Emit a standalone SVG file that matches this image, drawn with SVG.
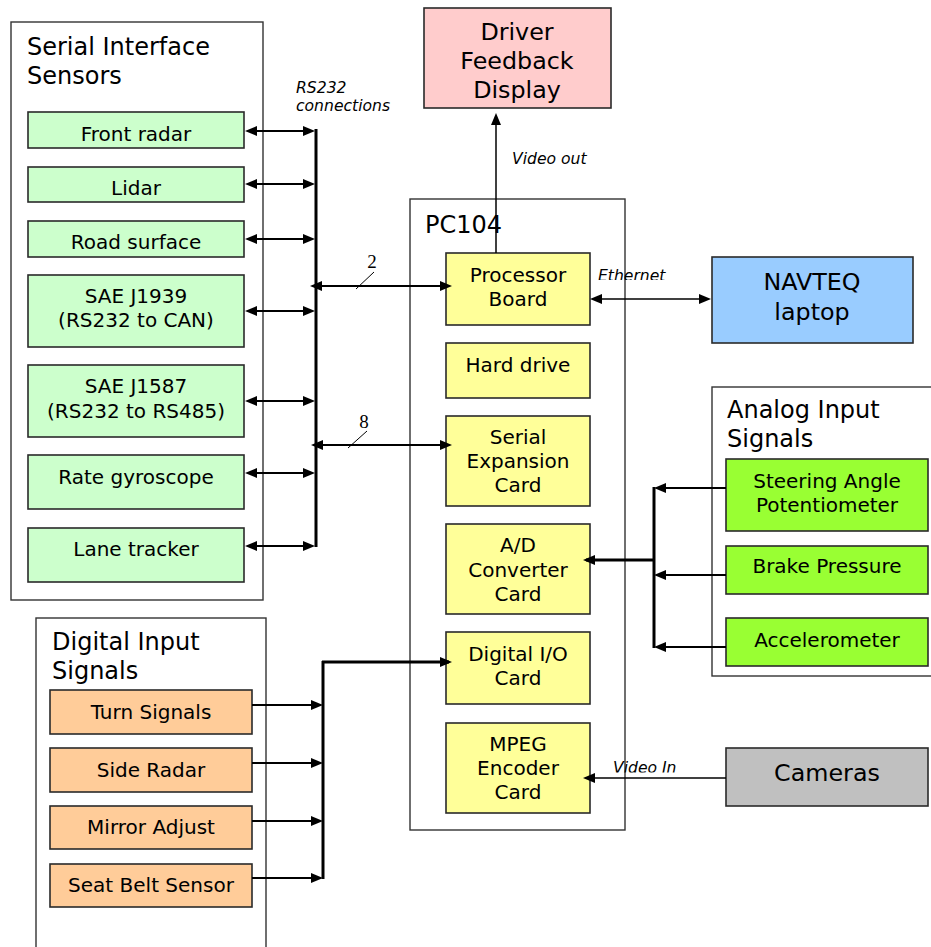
<svg xmlns="http://www.w3.org/2000/svg" width="931" height="947" viewBox="0 0 931 947">
<style>
  text { font-family: "DejaVu Sans", Verdana, sans-serif; fill: #000; }
  .lbl { font-size: 20px; text-anchor: middle; }
  .ttl { font-size: 24px; }
  .big { font-size: 23.8px; text-anchor: middle; }
  .it { font-size: 15.6px; font-style: italic; }
  .num { font-family: "Liberation Serif", "Times New Roman", serif; font-size: 19px; text-anchor: middle; }
  .cont { fill: #fff; stroke: #333; stroke-width: 1.4; }
  .box { stroke: #2a2a2a; stroke-width: 1.6; }
  .g { fill: #CCFFCC; }
  .y { fill: #FFFF99; }
  .o { fill: #FFCC99; }
  .lg { fill: #99FF33; }
  .bl { fill: #99CCFF; }
  .pk { fill: #FFCCCC; }
  .gr { fill: #C0C0C0; }
  .w1 { stroke: #000; stroke-width: 1.5; fill: none; }
  .w2 { stroke: #000; stroke-width: 2; fill: none; }
  .w3 { stroke: #000; stroke-width: 3; fill: none; }
  .sl { stroke: #000; stroke-width: 1; }
</style>
<defs>
  <marker id="ah" viewBox="0 0 12 10" refX="9" refY="5" markerWidth="12" markerHeight="10" markerUnits="userSpaceOnUse" orient="auto-start-reverse">
    <path d="M0,0 L12,5 L0,10 z" fill="#000"/>
  </marker>
  <clipPath id="clipEth"><rect x="590" y="255" width="120" height="25"/></clipPath>
  <clipPath id="clipVid"><rect x="600" y="750" width="120" height="22.5"/></clipPath>
</defs>

<!-- Containers -->
<g id="serial-interface-sensors">
  <rect class="cont" x="11" y="22" width="252" height="578"/>
  <text class="ttl" x="27" y="55">Serial Interface</text>
  <text class="ttl" x="27" y="84">Sensors</text>
</g>
<g id="pc104">
  <rect class="cont" x="410" y="199" width="215" height="631"/>
  <text class="ttl" x="425" y="233">PC104</text>
</g>
<g id="analog-input-signals">
  <rect class="cont" x="712" y="387" width="230" height="289"/>
  <text class="ttl" x="727" y="418">Analog Input</text>
  <text class="ttl" x="727" y="447">Signals</text>
</g>
<g id="digital-input-signals">
  <rect class="cont" x="36" y="618" width="230" height="340"/>
  <text class="ttl" x="52" y="650">Digital Input</text>
  <text class="ttl" x="52" y="679">Signals</text>
</g>

<!-- Serial sensors -->
<g id="front-radar"><rect class="box g" x="28" y="112" width="216" height="36"/><text class="lbl" x="136" y="141">Front radar</text></g>
<g id="lidar"><rect class="box g" x="28" y="167" width="216" height="35"/><text class="lbl" x="136" y="195">Lidar</text></g>
<g id="road-surface"><rect class="box g" x="28" y="221" width="216" height="36"/><text class="lbl" x="136" y="249">Road surface</text></g>
<g id="sae-j1939"><rect class="box g" x="28" y="275" width="216" height="72"/><text class="lbl" x="136" y="303">SAE J1939</text><text class="lbl" x="136" y="327">(RS232 to CAN)</text></g>
<g id="sae-j1587"><rect class="box g" x="28" y="365" width="216" height="72"/><text class="lbl" x="136" y="393">SAE J1587</text><text class="lbl" x="136" y="418">(RS232 to RS485)</text></g>
<g id="rate-gyroscope"><rect class="box g" x="28" y="455" width="216" height="54"/><text class="lbl" x="136" y="484">Rate gyroscope</text></g>
<g id="lane-tracker"><rect class="box g" x="28" y="528" width="216" height="54"/><text class="lbl" x="136" y="556">Lane tracker</text></g>

<!-- Top / right nodes -->
<g id="driver-feedback-display"><rect class="box pk" x="424" y="8" width="187" height="100"/><text class="big" x="517" y="40">Driver</text><text class="big" x="517" y="69">Feedback</text><text class="big" x="517" y="98">Display</text></g>
<g id="navteq-laptop"><rect class="box bl" x="712" y="257" width="201" height="86"/><text class="big" x="812" y="290">NAVTEQ</text><text class="big" x="812" y="320">laptop</text></g>
<g id="cameras"><rect class="box gr" x="726" y="748" width="202" height="58"/><text class="big" x="827" y="781">Cameras</text></g>

<!-- PC104 cards -->
<g id="processor-board"><rect class="box y" x="446" y="253" width="144" height="72"/><text class="lbl" x="518" y="282">Processor</text><text class="lbl" x="518" y="306">Board</text></g>
<g id="hard-drive"><rect class="box y" x="446" y="343" width="144" height="55"/><text class="lbl" x="518" y="372">Hard drive</text></g>
<g id="serial-expansion-card"><rect class="box y" x="446" y="416" width="144" height="90"/><text class="lbl" x="518" y="444">Serial</text><text class="lbl" x="518" y="468">Expansion</text><text class="lbl" x="518" y="492">Card</text></g>
<g id="ad-converter-card"><rect class="box y" x="446" y="524" width="144" height="90"/><text class="lbl" x="518" y="552">A/D</text><text class="lbl" x="518" y="577">Converter</text><text class="lbl" x="518" y="601">Card</text></g>
<g id="digital-io-card"><rect class="box y" x="446" y="632" width="144" height="72"/><text class="lbl" x="518" y="661">Digital I/O</text><text class="lbl" x="518" y="685">Card</text></g>
<g id="mpeg-encoder-card"><rect class="box y" x="446" y="723" width="144" height="90"/><text class="lbl" x="518" y="751">MPEG</text><text class="lbl" x="518" y="775">Encoder</text><text class="lbl" x="518" y="799">Card</text></g>

<!-- Analog sensors -->
<g id="steering-angle"><rect class="box lg" x="726" y="459" width="202" height="72"/><text class="lbl" x="827" y="488">Steering Angle</text><text class="lbl" x="827" y="512">Potentiometer</text></g>
<g id="brake-pressure"><rect class="box lg" x="726" y="546" width="202" height="48"/><text class="lbl" x="827" y="573">Brake Pressure</text></g>
<g id="accelerometer"><rect class="box lg" x="726" y="618" width="202" height="48"/><text class="lbl" x="827" y="647">Accelerometer</text></g>

<!-- Digital sensors -->
<g id="turn-signals"><rect class="box o" x="50" y="690" width="202" height="44"/><text class="lbl" x="151" y="719">Turn Signals</text></g>
<g id="side-radar"><rect class="box o" x="50" y="748" width="202" height="44"/><text class="lbl" x="151" y="777">Side Radar</text></g>
<g id="mirror-adjust"><rect class="box o" x="50" y="806" width="202" height="43"/><text class="lbl" x="151" y="834">Mirror Adjust</text></g>
<g id="seat-belt-sensor"><rect class="box o" x="50" y="864" width="202" height="43"/><text class="lbl" x="151" y="892">Seat Belt Sensor</text></g>

<!-- Connectors -->
<g id="connectors">
  <!-- RS232 bus -->
  <line class="w3" x1="316" y1="129" x2="316" y2="547"/>
  <line class="w2" x1="248" y1="131" x2="312" y2="131" marker-start="url(#ah)" marker-end="url(#ah)"/>
  <line class="w2" x1="248" y1="184" x2="312" y2="184" marker-start="url(#ah)" marker-end="url(#ah)"/>
  <line class="w2" x1="248" y1="239" x2="312" y2="239" marker-start="url(#ah)" marker-end="url(#ah)"/>
  <line class="w2" x1="248" y1="311" x2="312" y2="311" marker-start="url(#ah)" marker-end="url(#ah)"/>
  <line class="w2" x1="248" y1="401" x2="312" y2="401" marker-start="url(#ah)" marker-end="url(#ah)"/>
  <line class="w2" x1="248" y1="473" x2="312" y2="473" marker-start="url(#ah)" marker-end="url(#ah)"/>
  <line class="w2" x1="248" y1="546" x2="312" y2="546" marker-start="url(#ah)" marker-end="url(#ah)"/>
  <!-- bus to processor / serial expansion -->
  <line class="w2" x1="313" y1="286" x2="449" y2="286" stroke-width="2.5" marker-start="url(#ah)" marker-end="url(#ah)"/>
  <line class="sl" x1="356" y1="289" x2="374" y2="272"/>
  <text class="num" x="372" y="268">2</text>
  <line class="w2" x1="314" y1="445" x2="449" y2="445" stroke-width="2.5" marker-start="url(#ah)" marker-end="url(#ah)"/>
  <line class="sl" x1="348" y1="448" x2="367" y2="431"/>
  <text class="num" x="364" y="428">8</text>
  <text class="it" x="296" y="93">RS232</text>
  <text class="it" x="296" y="111">connections</text>
  <!-- Video out -->
  <line class="w1" x1="496" y1="253" x2="496" y2="116" marker-end="url(#ah)"/>
  <text class="it" x="512" y="164">Video out</text>
  <!-- Ethernet -->
  <line class="w1" x1="593" y1="299" x2="708" y2="299" marker-start="url(#ah)" marker-end="url(#ah)"/>
  <text class="it" x="598" y="281" clip-path="url(#clipEth)">Ethernet</text>
  <!-- Analog -->
  <line class="w3" x1="654" y1="487" x2="654" y2="648"/>
  <line class="w2" x1="726" y1="488" x2="657" y2="488" marker-end="url(#ah)"/>
  <line class="w2" x1="726" y1="575" x2="657" y2="575" marker-end="url(#ah)"/>
  <line class="w2" x1="726" y1="647" x2="657" y2="647" marker-end="url(#ah)"/>
  <line class="w3" x1="654" y1="560" x2="586" y2="560" marker-end="url(#ah)"/>
  <!-- Digital -->
  <line class="w3" x1="323" y1="661" x2="323" y2="879"/>
  <line class="w2" x1="252" y1="705" x2="320" y2="705" marker-end="url(#ah)"/>
  <line class="w2" x1="252" y1="763" x2="320" y2="763" marker-end="url(#ah)"/>
  <line class="w2" x1="252" y1="821" x2="320" y2="821" marker-end="url(#ah)"/>
  <line class="w2" x1="252" y1="878" x2="320" y2="878" marker-end="url(#ah)"/>
  <line class="w3" x1="322" y1="662" x2="449" y2="662" marker-end="url(#ah)"/>
  <!-- Video In -->
  <line class="w1" x1="726" y1="778" x2="586" y2="778" marker-end="url(#ah)"/>
  <text class="it" x="613" y="773" clip-path="url(#clipVid)">Video In</text>
</g>
</svg>
